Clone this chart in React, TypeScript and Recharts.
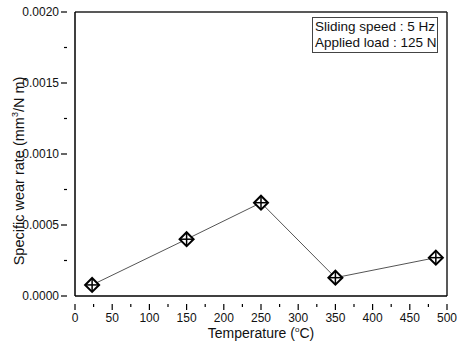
import React from "react";
import { LineChart, Line, XAxis, YAxis, ReferenceLine } from "recharts";

const temperatures = [23, 150, 250, 350, 485];
const wearRates = [0.000078, 0.0004, 0.000657, 0.000129, 0.00027];

const xTicks = [0, 25, 50, 75, 100, 125, 150, 175, 200, 225, 250, 275, 300, 325, 350, 375, 400, 425, 450, 475, 500];
const yTicks = [0, 0.00025, 0.0005, 0.00075, 0.001, 0.00125, 0.0015, 0.00175, 0.002];

const legendLines = ["Sliding speed : 5 Hz", "Applied load : 125 N"];

const data = temperatures.map((t, i) => ({ temp: t, rate: wearRates[i] }));

const FONT = "'Liberation Sans', Arial, sans-serif";

function CrossDiamond(props: any) {
  const { cx, cy } = props;
  if (cx == null || cy == null) return null;
  const r = 7;
  return (
    <g>
      <path
        d={`M${cx},${cy - r} L${cx + r},${cy} L${cx},${cy + r} L${cx - r},${cy} Z`}
        fill="#fff"
        stroke="#000"
        strokeWidth={2}
      />
      <line x1={cx - r} y1={cy} x2={cx + r} y2={cy} stroke="#000" strokeWidth={1.5} />
      <line x1={cx} y1={cy - r} x2={cx} y2={cy + r} stroke="#000" strokeWidth={1.5} />
    </g>
  );
}

function XTick(props: any) {
  const { x, y, payload } = props;
  const major = payload.value % 50 === 0;
  return (
    <g>
      <line x1={x} y1={y} x2={x} y2={y + (major ? 6 : 3)} stroke="#000" strokeWidth={1.2} />
      {major && (
        <text x={x} y={y + 18} textAnchor="middle" fontFamily={FONT} fontSize={12} fill="#111">
          {payload.value}
        </text>
      )}
    </g>
  );
}

function YTick(props: any) {
  const { x, y, payload } = props;
  const major = Math.abs((payload.value / 0.0005) - Math.round(payload.value / 0.0005)) < 1e-6;
  return (
    <g>
      <line x1={x} y1={y} x2={x - (major ? 6 : 3)} y2={y} stroke="#000" strokeWidth={1.2} />
      {major && (
        <text x={x - 8} y={y + 4} textAnchor="end" fontFamily={FONT} fontSize={12} fill="#111">
          {payload.value.toFixed(4)}
        </text>
      )}
    </g>
  );
}

function YLabel() {
  const x = 24;
  const y = 171;
  return (
    <text
      x={x}
      y={y}
      transform={`rotate(-90, ${x}, ${y})`}
      textAnchor="middle"
      fontFamily={FONT}
      fontSize={14.5}
      fill="#111"
    >
      Specific wear rate (mm
      <tspan fontSize={9} dy={-6}>3</tspan>
      <tspan dy={6}>/N m)</tspan>
    </text>
  );
}

function XLabel(props: any) {
  const { viewBox } = props;
  const x = viewBox.x + viewBox.width / 2;
  return (
    <text x={x} y={338} textAnchor="middle" fontFamily={FONT} fontSize={14} fill="#111">
      Temperature (
      <tspan fontSize={8} dy={-6}>o</tspan>
      <tspan dy={6}>C)</tspan>
    </text>
  );
}

export default function App() {
  return (
    <div style={{ position: "absolute", left: 0, top: 0, width: 457, height: 345, background: "#fff" }}>
      <LineChart
        width={457}
        height={345}
        data={data}
        margin={{ top: 12, right: 10, bottom: 0, left: 0 }}
      >
        <XAxis
          dataKey="temp"
          type="number"
          domain={[0, 500]}
          ticks={xTicks}
          interval={0}
          tick={<XTick />}
          tickLine={false}
          axisLine={{ stroke: "#000", strokeWidth: 1.5 }}
          height={49}
          label={<XLabel />}
          allowDataOverflow
        />
        <YAxis
          type="number"
          domain={[0, 0.002]}
          ticks={yTicks}
          interval={0}
          tick={<YTick />}
          tickLine={false}
          axisLine={{ stroke: "#000", strokeWidth: 1.5 }}
          width={75}
          label={<YLabel />}
          allowDataOverflow
        />
        <ReferenceLine y={0.002} stroke="#222" strokeWidth={1.5} />
        <ReferenceLine x={500} stroke="#222" strokeWidth={1.5} />
        <Line
          dataKey="rate"
          type="linear"
          stroke="#555"
          strokeWidth={1}
          dot={<CrossDiamond />}
          activeDot={false}
          isAnimationActive={false}
        />
      </LineChart>
      <div
        style={{
          position: "absolute",
          left: 312,
          top: 17,
          width: 126,
          height: 36,
          border: "1px solid #444",
          fontFamily: FONT,
          fontSize: 13.5,
          lineHeight: "16px",
          color: "#111",
          paddingLeft: 2,
          paddingTop: 1,
          whiteSpace: "nowrap",
          boxSizing: "border-box",
        }}
      >
        {legendLines.map((l) => (
          <div key={l}>{l}</div>
        ))}
      </div>
    </div>
  );
}
